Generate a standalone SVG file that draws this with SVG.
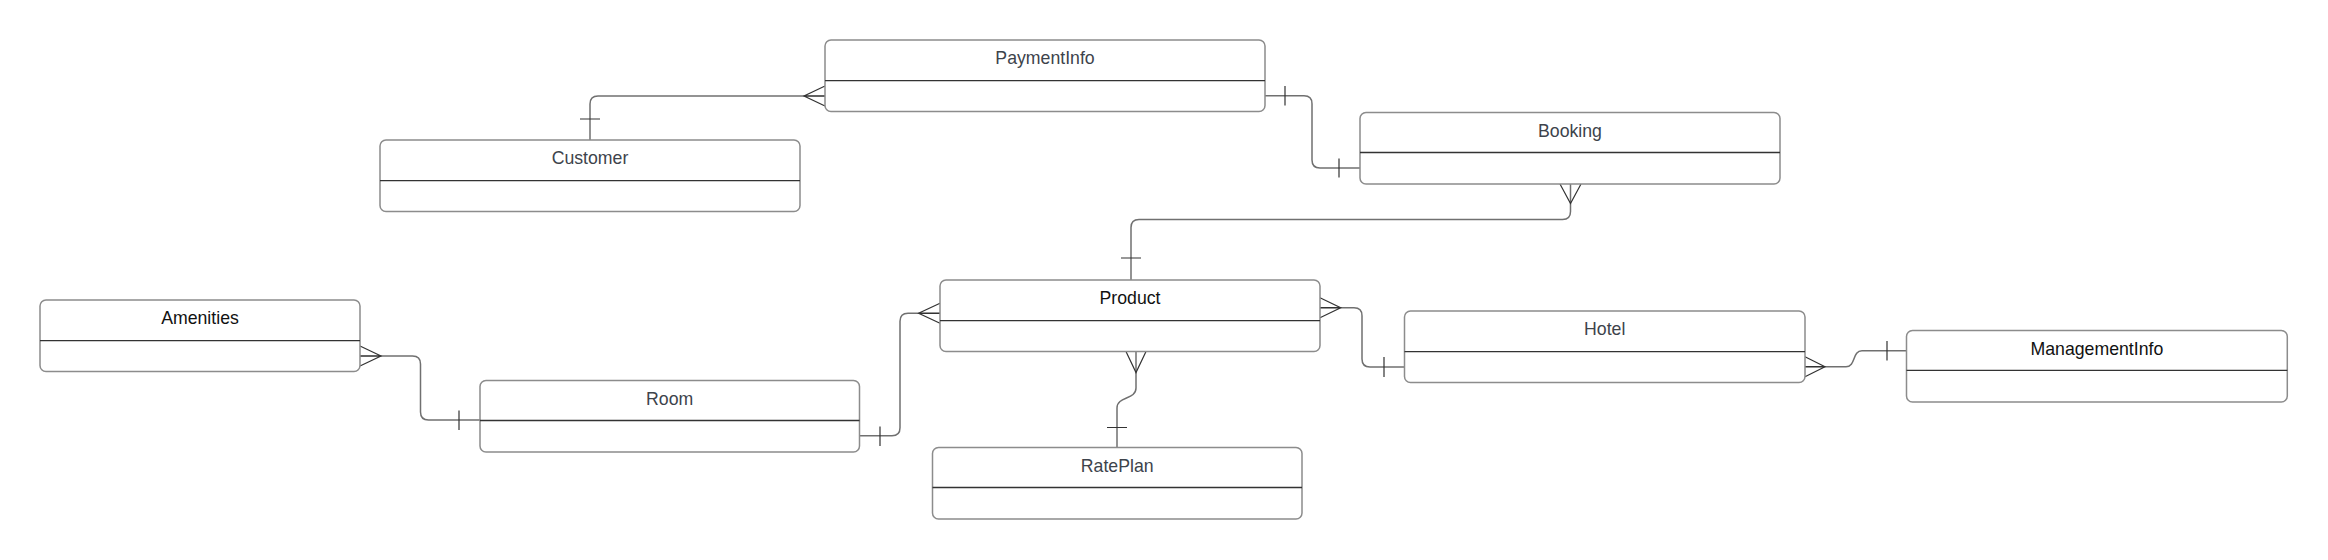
<svg xmlns="http://www.w3.org/2000/svg" width="2328" height="560" viewBox="0 0 2328 560">
<style>
.box{fill:#ffffff;stroke:#8c8c8c;stroke-width:1.5}
.div{stroke:#333333;stroke-width:1.3}
.t{font-family:"Liberation Sans",Arial,sans-serif;font-size:17.7px;fill:#3d434b;text-anchor:middle}
.tb{fill:#111111}
.c{fill:none;stroke:#707070;stroke-width:1.5}
.m{fill:none;stroke:#333333;stroke-width:1.2}
</style>
<rect x="0" y="0" width="2328" height="560" fill="#ffffff"/>
<g id="connectors">
  <!-- Customer - PaymentInfo -->
  <path class="c" d="M590,140 V104 Q590,96 598,96 H825"/>
  <path class="m" d="M825,86 L804,96 L825,106 M804,96 H825 M580,119 H600"/>
  <!-- PaymentInfo - Booking -->
  <path class="c" d="M1265,95.7 H1304 Q1312,95.7 1312,103.7 V160 Q1312,168 1320,168 H1360"/>
  <path class="m" d="M1285,86 V105.5 M1339,158.5 V177.5"/>
  <!-- Booking - Product -->
  <path class="c" d="M1570.5,184 V211.5 Q1570.5,219.5 1562.5,219.5 H1139 Q1131,219.5 1131,227.5 V280"/>
  <path class="m" d="M1560,184 L1570.5,203.5 L1581,184 M1121,258 H1141"/>
  <!-- Room - Product -->
  <path class="c" d="M859.5,435.7 H892 Q900,435.7 900,427.7 V321.3 Q900,313.3 908,313.3 H940"/>
  <path class="m" d="M940,303.3 L918.6,313.3 L940,323.3 M918.6,313.3 H940 M880,426.5 V446"/>
  <!-- Product - RatePlan -->
  <path class="c" d="M1136,351.5 V388 C1136,400 1117,396 1117,408 V447.5"/>
  <path class="m" d="M1126,351.5 L1136,372.5 L1146,351.5 M1107,427.5 H1127"/>
  <!-- Product - Hotel -->
  <path class="c" d="M1320,307.7 H1354 Q1362,307.7 1362,315.7 V359 Q1362,367 1370,367 H1404.5"/>
  <path class="m" d="M1320,297.7 L1340.7,307.7 L1320,317.7 M1320,307.7 H1340.7 M1384,357 V377"/>
  <!-- Amenities - Room -->
  <path class="c" d="M360,356 H412.5 Q420.5,356 420.5,364 V412 Q420.5,420 428.5,420 H480"/>
  <path class="m" d="M360,346 L381,356 L360,366 M360,356 H381 M459,410.5 V430"/>
  <!-- Hotel - ManagementInfo -->
  <path class="c" d="M1805,366.7 H1846 C1856,366.7 1852,350.7 1862,350.7 H1906.5"/>
  <path class="m" d="M1805,356.7 L1825,366.7 L1805,376.7 M1805,366.7 H1825 M1887,341 V360.5"/>
</g>
<g id="PaymentInfo">
  <rect class="box" x="825" y="40" width="440" height="71.5" rx="6"/>
  <line class="div" x1="825" y1="80.7" x2="1265" y2="80.7"/>
  <text class="t" x="1045" y="64">PaymentInfo</text>
</g>
<g id="Customer">
  <rect class="box" x="380" y="140" width="420" height="71.5" rx="6"/>
  <line class="div" x1="380" y1="180.7" x2="800" y2="180.7"/>
  <text class="t" x="590" y="164">Customer</text>
</g>
<g id="Booking">
  <rect class="box" x="1360" y="112.5" width="420" height="71.5" rx="6"/>
  <line class="div" x1="1360" y1="152.5" x2="1780" y2="152.5"/>
  <text class="t" x="1570" y="136.5">Booking</text>
</g>
<g id="Amenities">
  <rect class="box" x="40" y="300" width="320" height="71.5" rx="6"/>
  <line class="div" x1="40" y1="340.7" x2="360" y2="340.7"/>
  <text class="t tb" x="200" y="324">Amenities</text>
</g>
<g id="Room">
  <rect class="box" x="480" y="380.5" width="379.5" height="71.5" rx="6"/>
  <line class="div" x1="480" y1="420.5" x2="859.5" y2="420.5"/>
  <text class="t" x="669.7" y="404.5">Room</text>
</g>
<g id="Product">
  <rect class="box" x="940" y="280" width="380" height="71.5" rx="6"/>
  <line class="div" x1="940" y1="320.7" x2="1320" y2="320.7"/>
  <text class="t tb" x="1130" y="304">Product</text>
</g>
<g id="RatePlan">
  <rect class="box" x="932.5" y="447.5" width="369.5" height="71.5" rx="6"/>
  <line class="div" x1="932.5" y1="487.5" x2="1302" y2="487.5"/>
  <text class="t" x="1117.2" y="471.5">RatePlan</text>
</g>
<g id="Hotel">
  <rect class="box" x="1404.5" y="311" width="400.5" height="71.5" rx="6"/>
  <line class="div" x1="1404.5" y1="351.7" x2="1805" y2="351.7"/>
  <text class="t" x="1604.7" y="335">Hotel</text>
</g>
<g id="ManagementInfo">
  <rect class="box" x="1906.5" y="330.5" width="380.8" height="71.5" rx="6"/>
  <line class="div" x1="1906.5" y1="370.3" x2="2287.3" y2="370.3"/>
  <text class="t tb" x="2096.9" y="354.5">ManagementInfo</text>
</g>
</svg>
